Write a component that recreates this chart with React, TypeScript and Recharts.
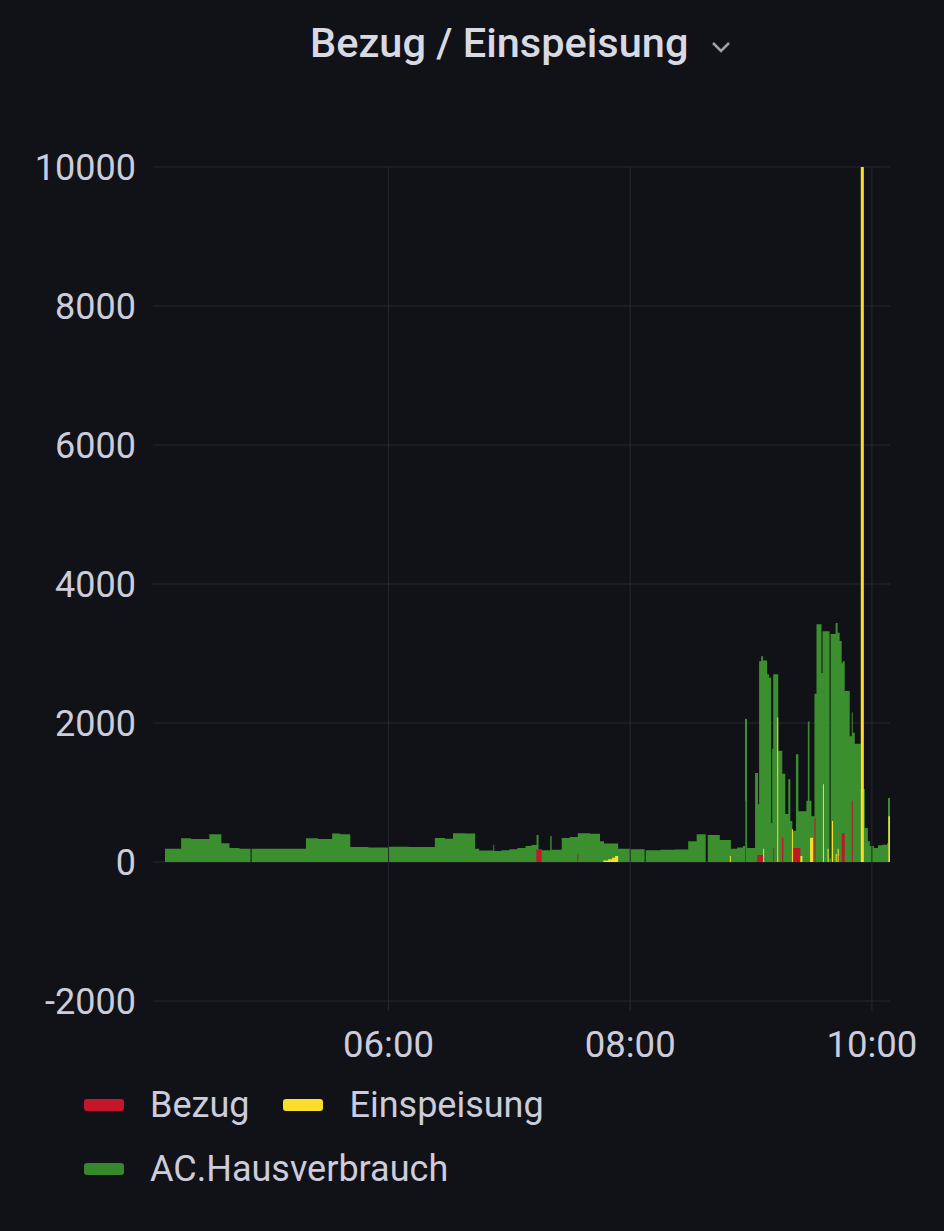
import React from 'react';
import { ComposedChart, Area, XAxis, YAxis, CartesianGrid, ReferenceLine } from 'recharts';

const title = 'Bezug / Einspeisung';
const seriesNames = ['Bezug', 'Einspeisung', 'AC.Hausverbrauch'];
const seriesColors = ['#C4162A', '#FADE2A', '#37872D'];
const yTicks = [-2000, 0, 2000, 4000, 6000, 8000, 10000];
const xTicks = [360, 480, 600]; // minutes since midnight: 06:00, 08:00, 10:00
const timeDomain: [number, number] = [249, 609];

// step series: [minute of day, watts] (value holds until next point)
const hausverbrauch: [number, number][] = [
  [249, 190], [257, 340], [262, 330], [271, 400], [277, 270], [281, 200], [286, 190],
  [291.5, 0], [292, 190], [319, 340], [325, 330], [332, 410], [336, 400], [341, 215],
  [350, 210], [360, 220], [370, 215], [383, 345], [388, 335], [392, 415], [398, 410],
  [403, 190], [405, 165], [412, 245], [412.5, 160], [416, 170], [420, 185], [424, 200],
  [428, 230], [431, 245], [433.5, 390], [434.5, 180], [436, 170], [440.3, 375], [441, 175],
  [446, 345], [450, 360], [454, 415], [460, 405], [465, 300], [467, 265], [474, 190],
  [480, 185], [487.2, 0], [487.7, 170], [495, 175], [502, 180], [508.8, 300], [513, 400],
  [517.5, 0], [518.5, 390], [524.5, 315], [530, 190], [533, 210], [536, 230], [537, 2060],
  [538, 200], [542, 1280], [543.5, 830], [544, 2890], [545, 2960], [546, 2900], [548, 2700],
  [549, 2650], [550, 560], [550.5, 1630], [551, 2700], [553.5, 1600], [555.5, 1270],
  [557, 690], [558.5, 1190], [559.5, 590], [560.5, 450], [562.3, 1550], [563.5, 730],
  [564, 730], [567.5, 880], [568.2, 2020], [569, 880], [570, 660], [571.5, 2420],
  [572.5, 3420], [575, 2720], [575.5, 3320], [579, 50], [579.5, 3280], [582, 3440],
  [583, 3300], [584, 3180], [585, 2860], [585.5, 2890], [586.5, 2460], [589, 1810],
  [590, 2150], [590.5, 1860], [591.5, 1700], [594.5, 1050], [596.5, 490], [598, 300],
  [599, 230], [601, 200], [603, 240], [605, 250], [607.5, 270], [608, 920], [609, 920],
];

const bezug: [number, number][] = [
  [249, 0], [433.4, 180], [436, 0], [453.7, 115], [454.2, 0], [537, 880], [537.5, 0],
  [543, 100], [546, 0], [551, 200], [551.5, 0], [555.4, 350], [556, 0], [560.5, 200],
  [564.5, 0], [571.5, 630], [572, 0], [583, 85], [584, 0], [585, 415], [586.5, 0],
  [590, 880], [590.5, 0], [609, 0],
];

const einspeisung: [number, number][] = [
  [249, 0], [466.6, 20], [469, 40], [471, 60], [472.5, 85], [474, 0], [529.5, 85], [530, 0],
  [546, 190], [546.5, 0], [553, 2080], [553.5, 0], [560.3, 470], [560.8, 0], [564.5, 85],
  [565.5, 0], [569.3, 350], [570.8, 0], [575.7, 1120], [576.2, 0], [578, 190], [578.5, 0],
  [580.2, 590], [580.7, 0], [582, 115], [582.5, 0], [583, 190], [583.5, 0], [594.5, 12500],
  [596, 0], [608.2, 660], [609, 660],
];

function valueAt(s: [number, number][], t: number) {
  let v = 0;
  for (const [tt, vv] of s) {
    if (tt <= t) v = vv;
    else break;
  }
  return v;
}

const allTimes = Array.from(
  new Set([...hausverbrauch, ...bezug, ...einspeisung].map((p) => p[0]))
).sort((a, b) => a - b);

const table = allTimes.map((t) => ({
  t,
  bezug: valueAt(bezug, t),
  einspeisung: valueAt(einspeisung, t),
  haus: valueAt(hausverbrauch, t),
}));

const fmtTime = (m: number) => {
  const h = Math.floor(m / 60);
  const mm = Math.round(m % 60);
  return `${String(h).padStart(2, '0')}:${String(mm).padStart(2, '0')}`;
};

const TEXT = '#ccccdc';
const GRID = '#27282e';
const FONT = 'Roboto, Inter, "Noto Sans", sans-serif';

export default function App() {
  const legendRows = [[0, 1], [2]];
  return (
    <div
      style={{
        position: 'absolute',
        left: 0,
        top: 0,
        width: 944,
        height: 1231,
        background: '#111217',
        fontFamily: FONT,
        overflow: 'hidden',
      }}
    >
      <div
        style={{
          position: 'absolute',
          left: 310,
          top: 19,
          height: 48,
          lineHeight: '48px',
          fontSize: 41.5,
          fontWeight: 500,
          color: '#d8d9e3',
          whiteSpace: 'nowrap',
          display: 'flex',
          alignItems: 'center',
        }}
      >
        <span>{title}</span>
        <svg width={22} height={14} style={{ marginLeft: 22, marginTop: 8 }}>
          <path d="M3 3 L11 11 L19 3" stroke="#9fa0aa" strokeWidth={2.5} fill="none" />
        </svg>
      </div>
      <ComposedChart
        width={944}
        height={1231}
        data={table}
        margin={{ top: 167, right: 54, bottom: 170, left: 105 }}
      >
        <CartesianGrid stroke={GRID} strokeWidth={1} vertical={false} />
        {xTicks.map((t) => (
          <ReferenceLine key={t} x={t} stroke={GRID} strokeWidth={1} />
        ))}
        <XAxis
          type="number"
          dataKey="t"
          domain={timeDomain}
          ticks={xTicks}
          tickFormatter={fmtTime}
          allowDataOverflow
          axisLine={false}
          tickLine={{ stroke: GRID }}
          tickSize={10}
          tickMargin={20}
          height={60}
          tick={{ fill: TEXT, fontSize: 36.5, fontFamily: FONT }}
        />
        <YAxis
          type="number"
          domain={[-2000, 10000]}
          ticks={yTicks}
          allowDataOverflow
          axisLine={false}
          tickLine={{ stroke: GRID }}
          tickSize={12}
          tickMargin={17}
          width={60}
          tick={{ fill: TEXT, fontSize: 36, fontFamily: FONT }}
        />
        <Area
          type="stepAfter"
          dataKey="haus"
          name={seriesNames[2]}
          fill="#3b8f2f"
          fillOpacity={1}
          stroke="none"
          isAnimationActive={false}
          dot={false}
          activeDot={false}
        />
        <Area
          type="stepAfter"
          dataKey="bezug"
          name={seriesNames[0]}
          fill={seriesColors[0]}
          fillOpacity={1}
          stroke="none"
          isAnimationActive={false}
          dot={false}
          activeDot={false}
        />
        <Area
          type="stepAfter"
          dataKey="einspeisung"
          name={seriesNames[1]}
          fill={seriesColors[1]}
          fillOpacity={1}
          stroke="none"
          isAnimationActive={false}
          dot={false}
          activeDot={false}
        />
      </ComposedChart>
      <div style={{ position: 'absolute', left: 84, top: 1073 }}>
        {legendRows.map((row, ri) => (
          <div key={ri} style={{ display: 'flex', alignItems: 'center', height: 64 }}>
            {row.map((i) => (
              <div key={i} style={{ display: 'flex', alignItems: 'center', marginRight: 34 }}>
                <div
                  style={{
                    width: 40,
                    height: 12,
                    borderRadius: 3,
                    background: seriesColors[i],
                    marginRight: 26,
                  }}
                />
                <span style={{ fontSize: 36, color: TEXT, lineHeight: '40px' }}>{seriesNames[i]}</span>
              </div>
            ))}
          </div>
        ))}
      </div>
    </div>
  );
}
